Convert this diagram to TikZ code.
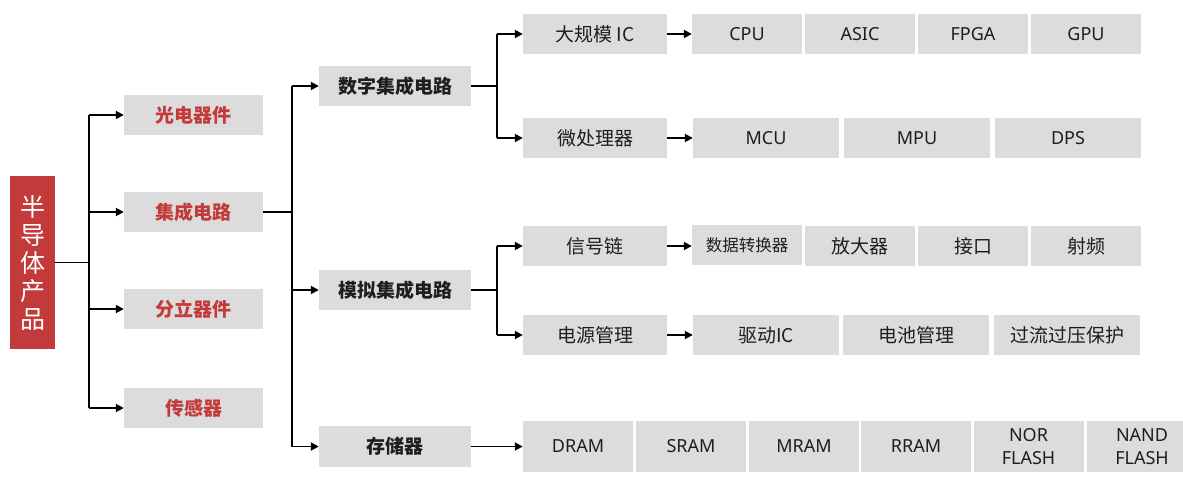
\documentclass[tikz,border=0pt]{standalone}
\usepackage{fontspec}
\setmainfont{Noto Sans CJK SC}
\newfontfamily\latinfont{Noto Sans}
\usetikzlibrary{arrows.meta}
\definecolor{boxgray}{HTML}{DCDCDC}
\definecolor{hired}{HTML}{C23A3A}
\definecolor{txt}{HTML}{1E1E1E}
\tikzset{
  box/.style={fill=boxgray, inner sep=0pt, minimum height=40pt, text=txt, font=\fontsize{19}{21}\selectfont, align=center},
  lone/.style={box, minimum width=139pt, text=hired, font=\fontsize{19}{21}\selectfont\bfseries},
  ltwo/.style={box, minimum width=152pt, font=\fontsize{19}{21}\selectfont\bfseries},
  lthree/.style={box, minimum width=144pt},
  cfour/.style={box, minimum width=110pt},
  cthree/.style={box, minimum width=146pt},
  lat/.style={font=\latinfont\fontsize{18}{21}\selectfont},
  conn/.style={line width=1.8pt, draw=black},
  arr/.style={conn, -{Triangle[length=8pt,width=8pt]}},
}
\begin{document}
\begin{tikzpicture}[x=1pt,y=-1pt]
\useasboundingbox (0,0) rectangle (1183,485);
% root
\node[fill=hired, inner sep=0pt, minimum width=45pt, minimum height=173pt, text=white, align=center,
  font=\fontsize{25}{28}\selectfont] (root) at (32.5,262.5) {半\\导\\体\\产\\品};
% level 1
\node[lone] (gd) at (193.5,115) {光电器件};
\node[lone] (jc) at (193.5,212) {集成电路};
\node[lone] (fl) at (193.5,309) {分立器件};
\node[lone] (cg) at (193.5,408) {传感器};
% level 2
\node[ltwo] (sz) at (395,86) {数字集成电路};
\node[ltwo] (mn) at (395,290) {模拟集成电路};
\node[ltwo, minimum height=41pt] (cc) at (395,446.5) {存储器};
% level 3
\node[lthree] (dgm) at (595,34) {大规模 IC};
\node[lthree] (wcl) at (595,138) {微处理器};
\node[lthree] (xhl) at (595,246) {信号链};
\node[lthree] (dygl) at (595,335) {电源管理};
% rows
\node[cfour, lat] (cpu) at (747,34) {CPU};
\node[cfour, lat] (asic) at (860,34) {ASIC};
\node[cfour, lat] (fpga) at (973,34) {FPGA};
\node[cfour, lat] (gpu) at (1086,34) {GPU};
\node[cthree, lat] (mcu) at (766,138) {MCU};
\node[cthree, lat] (mpu) at (917,138) {MPU};
\node[cthree, lat] (dps) at (1068,138) {DPS};
\node[cfour, font=\fontsize{16.5}{19}\selectfont] (sjzh) at (747,245) {数据转换器};
\node[cfour] (fdq) at (860,246) {放大器};
\node[cfour] (jk) at (973,246) {接口};
\node[cfour] (sp) at (1086,246) {射频};
\node[cthree] (qd) at (766,335) {驱动IC};
\node[cthree] (dc) at (916,335) {电池管理};
\node[cthree] (gl) at (1067,335) {过流过压保护};
\node[cfour, lat, minimum height=51pt] (dram) at (578,446.5) {DRAM};
\node[cfour, lat, minimum height=51pt] (sram) at (691,446.5) {SRAM};
\node[cfour, lat, minimum height=51pt] (mram) at (804,446.5) {MRAM};
\node[cfour, lat, minimum height=51pt] (rram) at (916,446.5) {RRAM};
\node[cfour, lat, minimum height=51pt, font=\latinfont\fontsize{18}{23}\selectfont] (nor) at (1028.5,446.5) {NOR\\FLASH};
\node[cfour, lat, minimum height=51pt, font=\latinfont\fontsize{18}{23}\selectfont] (nand) at (1142,446.5) {NAND\\FLASH};
% junctions
\coordinate (ja) at (89,262.5);
\coordinate (jb) at (292,212);
\coordinate (jc1) at (497,86);
\coordinate (jc2) at (497,290);
% root connectors
\draw[conn] (root.east) -- (ja);
\draw[conn] (ja |- gd) -- (ja |- cg);
\foreach \n in {gd,jc,fl,cg} \draw[arr] (ja |- \n) -- (\n.west);
% level-1 to level-2
\draw[conn] (jc.east) -- (jb);
\draw[conn] (jb |- sz) -- (jb |- cc);
\foreach \n in {sz,mn,cc} \draw[arr] (jb |- \n) -- (\n.west);
% level-2 to level-3
\draw[conn] (sz.east) -- (jc1);
\draw[conn] (jc1 |- dgm) -- (jc1 |- wcl);
\draw[arr] (jc1 |- dgm) -- (dgm.west);
\draw[arr] (jc1 |- wcl) -- (wcl.west);
\draw[conn] (mn.east) -- (jc2);
\draw[conn] (jc2 |- xhl) -- (jc2 |- dygl);
\draw[arr] (jc2 |- xhl) -- (xhl.west);
\draw[arr] (jc2 |- dygl) -- (dygl.west);
\draw[arr] (cc.east) -- (dram.west);
% level-3 to rows
\draw[arr] (dgm.east) -- (cpu.west);
\draw[arr] (wcl.east) -- (mcu.west);
\draw[arr] (xhl.east) -- (sjzh.west |- xhl);
\draw[arr] (dygl.east) -- (qd.west);
\end{tikzpicture}
\end{document}
